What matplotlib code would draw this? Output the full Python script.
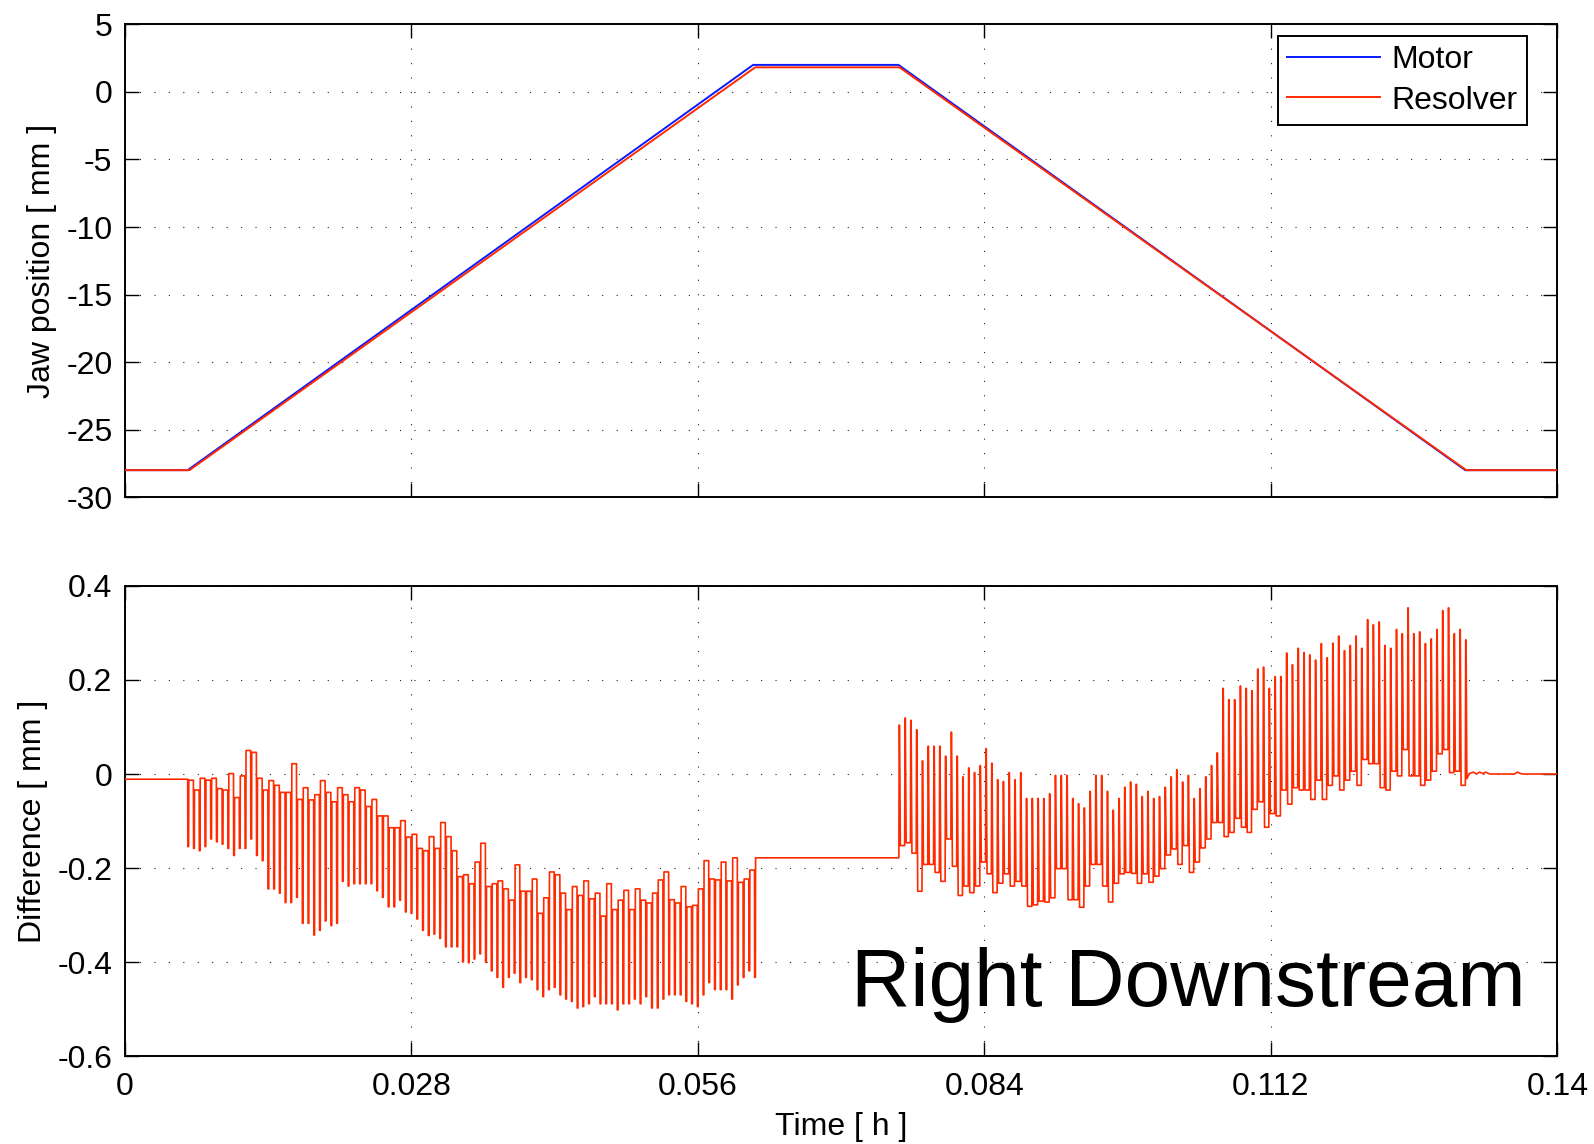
import numpy as np
import matplotlib
matplotlib.use("Agg")
import matplotlib.pyplot as plt
from matplotlib.ticker import FixedLocator, FixedFormatter

plt.rcParams['font.family'] = ['Liberation Sans', 'DejaVu Sans']
plt.rcParams['axes.unicode_minus'] = False

# ---------------- data ----------------
# Top panel: jaw position key points (time in h, position in mm)
pos_time = [0.0, 0.00613, 0.0614, 0.0756, 0.1310, 0.14]
motor_pos = [-28.0, -28.0, 2.0, 2.0, -28.0, -28.0]
resolver_time = [0.0, 0.0063, 0.0616, 0.0757, 0.1311, 0.14]
resolver_pos = [-28.0, -28.0, 1.82, 1.82, -28.0, -28.0]

# Bottom panel: difference [mm]
diff_start = -0.011
# ramp-up cycles (downward spikes, then plateau)
up_t_first, up_t_last = 0.00613, 0.06153
up_low = [-0.154, -0.158, -0.163, -0.154, -0.138, -0.144, -0.149, -0.158, -0.173, -0.158,
          -0.158, -0.138, -0.173, -0.184, -0.244, -0.244, -0.253, -0.273, -0.273, -0.262,
          -0.317, -0.317, -0.342, -0.332, -0.312, -0.322, -0.317, -0.228, -0.238, -0.233,
          -0.233, -0.233, -0.233, -0.248, -0.262, -0.282, -0.282, -0.268, -0.293, -0.296,
          -0.308,
          -0.332, -0.343, -0.340, -0.349, -0.367, -0.367, -0.367, -0.399, -0.401, -0.393,
          -0.382, -0.400, -0.418, -0.432, -0.453, -0.432, -0.423, -0.443, -0.432, -0.437,
          -0.458, -0.473, -0.458, -0.453, -0.469, -0.478, -0.483, -0.497, -0.494, -0.488,
          -0.473, -0.488, -0.488, -0.488, -0.501, -0.488, -0.488, -0.478, -0.488, -0.473,
          -0.497, -0.497, -0.478, -0.469, -0.469, -0.469, -0.483, -0.488, -0.494, -0.469,
          -0.443, -0.458, -0.458, -0.458, -0.478, -0.448, -0.432, -0.418, -0.432]
up_high = [-0.013, -0.034, -0.009, -0.013, -0.009, -0.031, -0.034, 0.001, -0.050, -0.004,
           0.050, 0.046, -0.009, -0.034, -0.014, -0.024, -0.039, -0.039, 0.022, -0.054,
           -0.029, -0.055, -0.044, -0.014, -0.039, -0.059, -0.029, -0.044, -0.059, -0.029,
           -0.034, -0.069, -0.054, -0.089, -0.089, -0.114, -0.114, -0.099, -0.134, -0.128,
           -0.158,
           -0.163, -0.133, -0.158, -0.103, -0.133, -0.163, -0.218, -0.214, -0.233, -0.187,
           -0.147, -0.239, -0.233, -0.227, -0.244, -0.268, -0.193, -0.249, -0.249, -0.223,
           -0.296, -0.263, -0.208, -0.214, -0.253, -0.288, -0.239, -0.258, -0.227, -0.265,
           -0.253, -0.302, -0.233, -0.288, -0.268, -0.247, -0.288, -0.244, -0.268, -0.274,
           -0.253, -0.225, -0.208, -0.267, -0.274, -0.239, -0.282, -0.279, -0.244, -0.184,
           -0.223, -0.225, -0.187, -0.227, -0.178, -0.230, -0.223, -0.204, -0.178]
dwell_diff = -0.178
# ramp-down cycles (upward spikes, then plateau)
down_t_first, down_t_last = 0.07564, 0.13101
down_high = [0.104, 0.119, 0.114, 0.094, 0.028, 0.059, 0.059, 0.059, 0.038, 0.089,
             0.038, -0.006, 0.013, 0.003, 0.018, 0.054, 0.023, -0.012, -0.016, 0.003,
             -0.012, 0.003, -0.052, -0.052, -0.052, -0.052, -0.042, -0.003, -0.003, -0.003,
             -0.052, -0.063, -0.072, -0.037, -0.003, -0.003, -0.037, -0.077, -0.052, -0.028,
             -0.017, -0.022, -0.048, -0.037, -0.052, -0.048, -0.028, -0.006, 0.009, -0.017,
             -0.003, -0.052, -0.031, -0.006, 0.018, 0.045,
             0.182, 0.158, 0.158, 0.187, 0.182, 0.177, 0.223, 0.227, 0.182, 0.207,
             0.207, 0.257, 0.232, 0.267, 0.258, 0.253, 0.242, 0.277, 0.247, 0.278,
             0.293, 0.262, 0.273, 0.293, 0.267, 0.328, 0.317, 0.323, 0.273, 0.267,
             0.307, 0.298, 0.353, 0.298, 0.302, 0.277, 0.287, 0.307, 0.347, 0.353,
             0.298, 0.307, 0.285]
down_low = [-0.152, -0.146, -0.168, -0.249, -0.192, -0.192, -0.209, -0.228, -0.138, -0.196,
            -0.258, -0.238, -0.252, -0.238, -0.187, -0.212, -0.252, -0.232, -0.212, -0.238,
            -0.228, -0.238, -0.281, -0.278, -0.270, -0.272, -0.263, -0.201, -0.201, -0.267,
            -0.267, -0.283, -0.238, -0.192, -0.192, -0.238, -0.272, -0.232, -0.212, -0.209,
            -0.211, -0.232, -0.212, -0.230, -0.217, -0.201, -0.172, -0.159, -0.192, -0.152,
            -0.209, -0.187, -0.157, -0.138, -0.103, -0.103,
            -0.133, -0.124, -0.094, -0.113, -0.124, -0.075, -0.059, -0.113, -0.084, -0.089,
            -0.034, -0.064, -0.029, -0.034, -0.034, -0.054, -0.013, -0.054, -0.024, -0.004,
            -0.034, -0.013, 0.006, -0.024, 0.031, 0.022, 0.022, -0.029, -0.034, 0.006,
            -0.004, 0.052, -0.004, -0.004, -0.024, -0.013, 0.006, 0.043, 0.052, 0.003,
            0.006, -0.024, -0.010]
# settled tail after the move
tail_t = [0.1314, 0.1318, 0.1321, 0.1324, 0.1327, 0.1330, 0.1334, 0.1358, 0.1361, 0.1364, 0.1367, 0.14]
tail_v = [0.001, 0.004, 0.000, 0.004, 0.001, 0.004, 0.000, 0.000, 0.004, 0.001, 0.000, 0.000]

x_ticks = [0, 0.028, 0.056, 0.084, 0.112, 0.14]
x_ticklabels = ['0', '0.028', '0.056', '0.084', '0.112', '0.14']
pos_ticks = [5, 0, -5, -10, -15, -20, -25, -30]
pos_ticklabels = ['5', '0', '-5', '-10', '-15', '-20', '-25', '-30']
diff_ticks = [0.4, 0.2, 0, -0.2, -0.4, -0.6]
diff_ticklabels = ['0.4', '0.2', '0', '-0.2', '-0.4', '-0.6']

# ---------------- build difference path ----------------
up_t = np.linspace(up_t_first, up_t_last, len(up_low))
down_t = np.linspace(down_t_first, down_t_last, len(down_high))
up_p = up_t[1] - up_t[0]
dn_p = down_t[1] - down_t[0]

dx = [0.0]
dy = [diff_start]
prev = diff_start
for t, lo, hi in zip(up_t, up_low, up_high):
    dx += [t, t + 0.03 * up_p, t + 0.16 * up_p, t + 0.19 * up_p]
    dy += [prev, lo, lo, hi]
    prev = hi
dx += [down_t[0]]
dy += [dwell_diff]
prev = dwell_diff
for t, hi, lo in zip(down_t, down_high, down_low):
    dx += [t, t + 0.06 * dn_p, t + 0.12 * dn_p, t + 0.26 * dn_p]
    dy += [prev, hi, hi, lo]
    prev = lo
dx += list(tail_t)
dy += list(tail_v)

# ---------------- figure ----------------
RED = '#ff2a00'
BLUE = '#0a1aff'
FS = 23

fig = plt.figure(figsize=(15.94, 11.44), dpi=100)
ax1 = fig.add_axes([0.0784, 0.5654, 0.8986, 0.4133])
ax2 = fig.add_axes([0.0784, 0.0765, 0.8986, 0.4115])

ax1.plot(pos_time, motor_pos, color=BLUE, lw=1.4, label='Motor', zorder=3)
ax1.plot(resolver_time, resolver_pos, color=RED, lw=1.4, label='Resolver', zorder=4)
ax2.plot(dx, dy, color=RED, lw=1.2, zorder=3)

ax1.set_ylim(-30, 5)
ax2.set_ylim(-0.6, 0.4)
for ax in (ax1, ax2):
    ax.set_xlim(0, 0.14)
    ax.xaxis.set_major_locator(FixedLocator(x_ticks))
    ax.grid(True, color='#222222', linestyle=(0, (1, 12)), linewidth=0.8)
    ax.set_axisbelow(True)
    ax.tick_params(direction='in', length=10, width=1.0, top=True, right=True,
                   labelsize=FS, pad=9)
    for s in ax.spines.values():
        s.set_linewidth(1.4)

ax1.yaxis.set_major_locator(FixedLocator(pos_ticks))
ax1.yaxis.set_major_formatter(FixedFormatter(pos_ticklabels))
ax1.tick_params(labelbottom=False)
ax2.xaxis.set_major_formatter(FixedFormatter(x_ticklabels))
ax2.yaxis.set_major_locator(FixedLocator(diff_ticks))
ax2.yaxis.set_major_formatter(FixedFormatter(diff_ticklabels))
ax2.tick_params(axis='x', pad=11)

ax1.set_ylabel('Jaw position [ mm ]', fontsize=FS, va='center')
ax1.yaxis.set_label_coords(-0.058, 0.5)
ax2.set_ylabel('Difference [ mm ]', fontsize=FS, va='center')
ax2.yaxis.set_label_coords(-0.064, 0.5)
ax2.set_xlabel('Time [ h ]', fontsize=FS, va='center')
ax2.xaxis.set_label_coords(0.5, -0.149)

leg = ax1.legend(loc='upper right', bbox_to_anchor=(0.9788, 0.976), borderaxespad=0,
                 fontsize=FS, handlelength=2.9, handletextpad=0.35, borderpad=0.3,
                 labelspacing=0.32, fancybox=False, framealpha=1, edgecolor='black')
leg.get_frame().set_linewidth(1.4)

ax2.text(0.07096, -0.4927, 'Right Downstream', fontsize=59, ha='left', va='baseline',
         zorder=5)

fig.savefig('out.png', dpi=100)
